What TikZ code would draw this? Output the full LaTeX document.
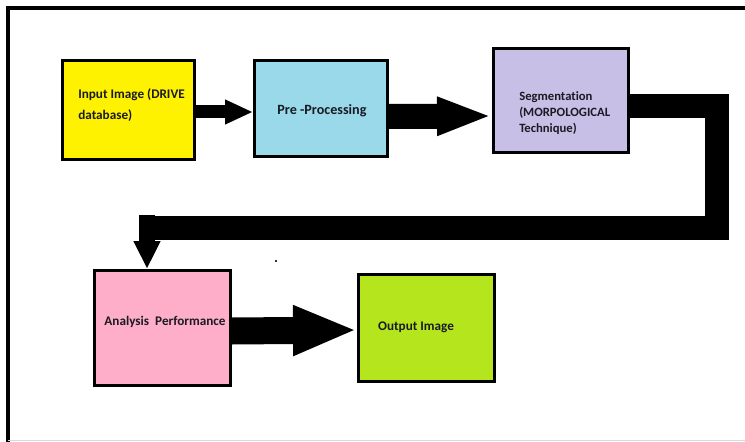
\documentclass[tikz,border=0pt]{standalone}
\usepackage{fontspec}
\setmainfont{Carlito}[Ligatures=NoCommon]
\usetikzlibrary{arrows.meta,calc}
\definecolor{cyel}{HTML}{FFF200}
\definecolor{cblu}{HTML}{99D9EA}
\definecolor{clav}{HTML}{C8BFE7}
\definecolor{cpnk}{HTML}{FFAEC9}
\definecolor{clim}{HTML}{B5E61D}
\definecolor{ctxt}{HTML}{1A1A22}
\tikzset{
  box/.style={draw=black, line width=2.25pt, inner sep=0pt},
  lbl/.style={font=\bfseries\fontsize{9.9}{11}\selectfont, text=ctxt, inner sep=0pt},
  fat/.style={draw=black, line cap=butt, line join=miter},
}
\begin{document}
\begin{tikzpicture}[x=0.75pt,y=-0.75pt]
\useasboundingbox (0,0) rectangle (745,442);
% frame
\draw[line width=3pt] (6,8.5) -- (745,8.5);
\draw[line width=3pt] (8,7) -- (8,442);
\draw[line width=0.75pt, black!15] (8,440.5) -- (745,440.5);
% boxes
\node[box, fill=cyel, minimum width=99pt, minimum height=74.25pt] (in) at (128.5,110) {};
\node[box, fill=cblu, minimum width=99.75pt, minimum height=72pt] (pre) at (321,108.5) {};
\node[box, fill=clav, minimum width=101.25pt, minimum height=78pt] (seg) at (561,100.5) {};
\node[box, fill=cpnk, minimum width=102pt, minimum height=86.25pt] (ana) at (162.5,328) {};
\node[box, fill=clim, minimum width=102pt, minimum height=80.25pt] (out) at (426.5,328) {};
% texts
\node[lbl, anchor=west, align=left, font=\bfseries\fontsize{9.9}{15.75}\selectfont] (tin) at (78,105.5) {Input Image (DRIVE\\database)};
\node[lbl, font=\bfseries\fontsize{10.6}{12}\selectfont] (tpre) at (322,111) {Pre -Processing};
\node[lbl, anchor=west, align=left, font=\bfseries\fontsize{9.5}{12}\selectfont] (tseg) at (519,113) {Segmentation\\(MORPOLOGICAL\\Technique)};
\node[lbl, font=\bfseries\fontsize{9.9}{12}\selectfont] (tana) at (165,322) {Analysis\ \ Performance};
\node[lbl] (tout) at (416,327) {Output Image};
% stray dot
\fill[black!80] (275,260) rectangle (277,262);
% connectors
\draw[fat, line width=9.75pt, -{Triangle[length=21pt,width=17.25pt]}]
  ($(in.east)+(0,2)$) -- ($(pre.west)+(0,3.5)$);
\draw[fat, line width=18.75pt, -{Triangle[length=41.25pt,width=26.25pt]}]
  ($(pre.east)+(0,8)$) -- ($(seg.west)+(0,15.5)$);
\coordinate (c1) at (716.5,106.5);
\coordinate (c2) at (716.5,227.5);
\coordinate (c3) at (139,227.5);
\draw[fat, line width=18pt] ($(seg.east)+(0,6)$) -- (c1) -- (c2) -- (c3);
\coordinate (c4) at (147,215);
\draw[fat, line width=12pt, -{Triangle[length=21pt,width=18.75pt]}]
  (c4) -- (ana.north -| c4);
\draw[fat, line width=20.25pt, -{Triangle[length=48pt,width=34.5pt]}]
  ($(ana.east)+(0,3)$) -- ($(out.west)+(0,2)$);
\end{tikzpicture}
\end{document}
